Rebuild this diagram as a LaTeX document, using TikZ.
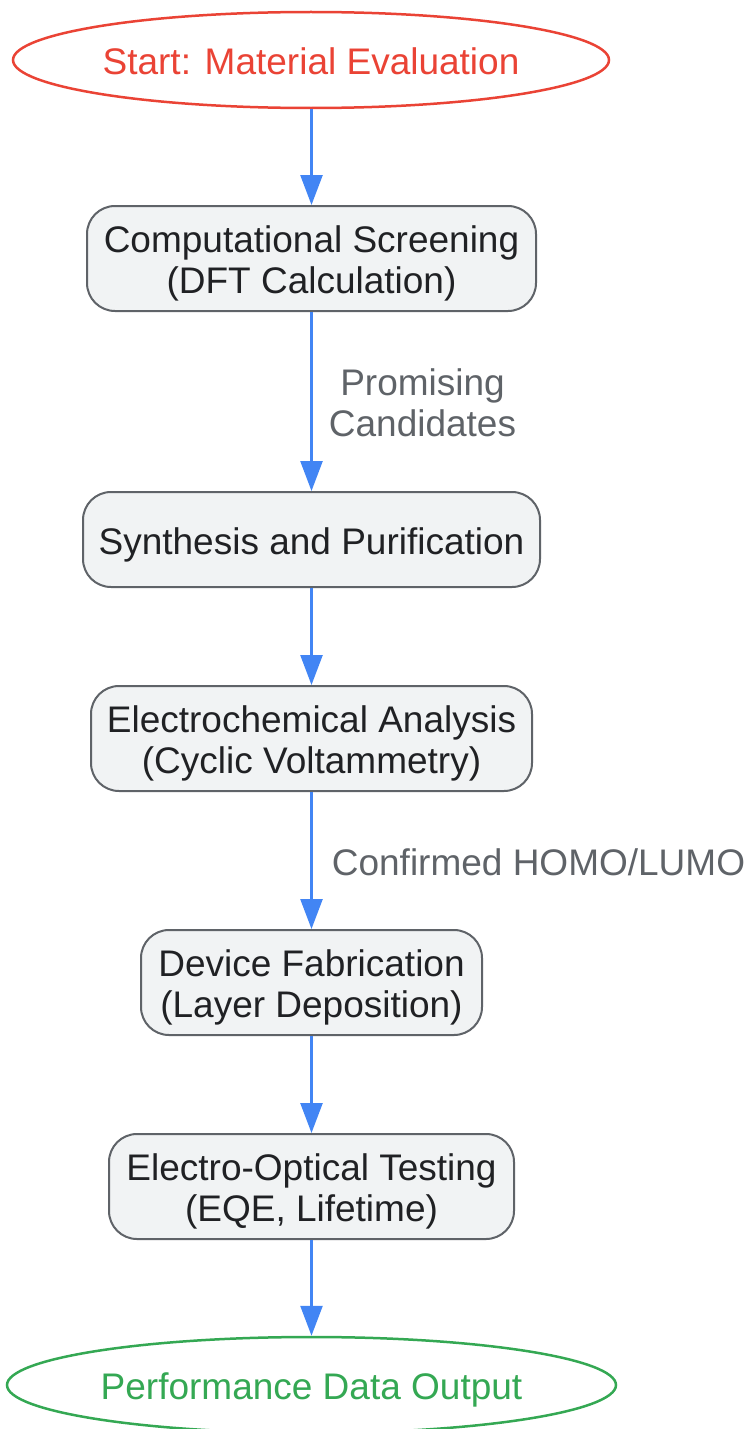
\documentclass[tikz,border=0pt]{standalone}
\usepackage{fontspec}
\setmainfont{Liberation Sans}
\usetikzlibrary{arrows.meta,shapes.geometric}
\definecolor{cred}{HTML}{EA4335}
\definecolor{cgreen}{HTML}{34A853}
\definecolor{cblue}{HTML}{4285F4}
\definecolor{boxfill}{HTML}{F1F3F4}
\definecolor{boxline}{HTML}{5F6368}
\definecolor{txt}{HTML}{202124}
\definecolor{lbl}{HTML}{5F6368}
\tikzset{
  bigfont/.style={font=\fontsize{37}{41}\selectfont},
  stepbox/.style={draw=boxline, line width=2pt, fill=boxfill, rounded corners=28pt, inner sep=0pt},
  boxtext/.style={align=center, text=txt, bigfont, inner sep=0pt, yshift=-5pt},
  terminal/.style={ellipse, line width=2.5pt, fill=white, inner sep=0pt},
  flow/.style={draw=cblue, line width=2.5pt, -{Triangle[length=30pt,width=22pt]}},
  edgelabel/.style={text=lbl, align=center, bigfont, inner sep=0pt}
}
\begin{document}
\begin{tikzpicture}[x=1pt,y=-1pt]
\useasboundingbox (0,0) rectangle (748,1429);
\node[terminal, draw=cred, minimum width=596pt, minimum height=96pt] (start) at (311,60) {};
\node[boxtext, text=cred, yshift=4pt] (tstart) at (start) {Start: Material Evaluation};
\node[stepbox, minimum width=449pt, minimum height=105pt] (b1) at (311.5,258.5) {};
\node[boxtext] (t1) at (b1) {Computational Screening\\(DFT Calculation)};
\node[stepbox, minimum width=457pt, minimum height=95pt] (b2) at (311.5,539.5) {};
\node[boxtext] (t2) at (b2) {Synthesis and Purification};
\node[stepbox, minimum width=441pt, minimum height=105pt] (b3) at (311.5,738.5) {};
\node[boxtext] (t3) at (b3) {Electrochemical Analysis\\(Cyclic Voltammetry)};
\node[stepbox, minimum width=341pt, minimum height=105pt] (b4) at (311.5,982.5) {};
\node[boxtext] (t4) at (b4) {Device Fabrication\\(Layer Deposition)};
\node[stepbox, minimum width=405pt, minimum height=105pt] (b5) at (311.5,1186.5) {};
\node[boxtext] (t5) at (b5) {Electro-Optical Testing\\(EQE, Lifetime)};
\node[terminal, draw=cgreen, minimum width=609pt, minimum height=96pt] (end) at (311.5,1385) {};
\node[boxtext, text=cgreen] (tend) at (end) {Performance Data Output};
\draw[flow] (start.south -| b1.north) -- (b1.north);
\draw[flow] (b1) -- node[edgelabel, xshift=111pt, yshift=-1pt] (l1) {Promising\\Candidates} (b2);
\draw[flow] (b2) -- (b3);
\draw[flow] (b3) -- node[edgelabel, xshift=227pt, yshift=-2pt] (l2) {Confirmed HOMO/LUMO} (b4);
\draw[flow] (b4) -- (b5);
\draw[flow] (b5) -- (end);
\end{tikzpicture}
\end{document}
